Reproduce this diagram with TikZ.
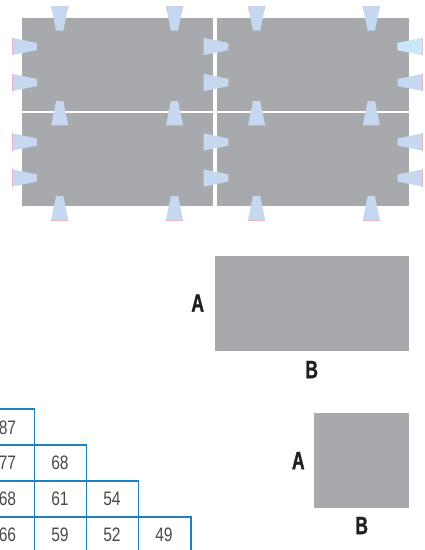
\documentclass[tikz,border=0pt]{standalone}
\usepackage{fontspec}
\newfontfamily\condreg[FakeStretch=0.80]{Liberation Sans}
\newfontfamily\condbold[FakeStretch=0.70,FakeBold=1.2]{Liberation Sans}[BoldFont={* Bold}]
\definecolor{panelgray}{HTML}{A7A9AC}
\definecolor{tabblue}{HTML}{C5D8EF}
\definecolor{tablight}{HTML}{C8E8F8}
\definecolor{tabpink}{HTML}{E8B4C4}
\definecolor{gridblue}{HTML}{1F7FC1}
\definecolor{numgray}{HTML}{4A4A4C}
\definecolor{labelblack}{HTML}{231F20}
\tikzset{
  panel/.style={fill=panelgray,draw=none},
  tabshape/.style={fill=tabblue,draw=none},
  pinkedge/.style={draw=tabpink,line width=0.5pt},
  gridline/.style={draw=gridblue,line width=1.2pt,line cap=butt},
  num/.style={font=\condreg\fontsize{19.5}{19.5}\selectfont,text=numgray,inner sep=0pt},
  dimlabel/.style={font=\condbold\fontsize{25}{25}\selectfont,text=labelblack,inner sep=0pt}
}
% vertical tab: #1 centre x, #2 wide-edge y, #3 narrow-edge y
\newcommand\vtab[3]{\fill[tabshape] (#1-8.6,#2) -- (#1+8.6,#2) -- (#1+3.6,#3) -- (#1-3.6,#3) -- cycle;}
% horizontal tab: #1 centre y, #2 wide-edge x, #3 narrow-edge x
\newcommand\htab[3]{\fill[tabshape] (#2,#1-8.6) -- (#2,#1+8.6) -- (#3,#1+3.6) -- (#3,#1-3.6) -- cycle;}
\begin{document}
\begin{tikzpicture}[x=1pt,y=-1pt]
\useasboundingbox (0,0) rectangle (425,550);
% panels
\fill[panel] (22,18) rectangle (213.4,110.8);
\fill[panel] (216.7,18) rectangle (408.8,110.8);
\fill[panel] (22,113.4) rectangle (213.4,206);
\fill[panel] (216.7,113.4) rectangle (408.8,206);
% vertical tabs
\foreach \cx in {59.7,174.5,256.6,371.3}{
  \vtab{\cx}{6}{30.7}
  \draw[pinkedge] (\cx-8.6,6) -- (\cx-7.4,11);
  \draw[pinkedge] (\cx+8.6,6) -- (\cx+7.4,11);
  \vtab{\cx}{125.4}{101}
  \vtab{\cx}{220}{196}
  \draw[pinkedge] (\cx-8.6,220) -- (\cx+8.6,220);
}
% horizontal tabs
\foreach \cy in {46.5,82.5,142,178}{
  \htab{\cy}{12.4}{36.8}
  \draw[pinkedge] (12.4,\cy-8.6) -- (12.4,\cy+8.6);
  \htab{\cy}{203.7}{228.4}
  \htab{\cy}{422.7}{397.7}
  \draw[pinkedge] (422.7,\cy-8.6) -- (422.7,\cy+8.6);
}
\fill[fill=tablight] (422.4,37.9) -- (422.4,55.1) -- (397.7,50.1) -- (397.7,42.9) -- cycle;
% separate rectangles
\fill[panel] (215,256) rectangle (409,350.8);
\fill[panel] (314,413) rectangle (409,507.8);
\node[dimlabel] (a1) at (197.7,303) {\bfseries A};
\node[dimlabel] (b1) at (311.7,369.5) {\bfseries B};
\node[dimlabel] (a2) at (298.3,460.5) {\bfseries A};
\node[dimlabel] (b2) at (361.7,525.5) {\bfseries B};
% table
\draw[gridline] (0,409) -- (34.4,409) -- (34.4,550);
\draw[gridline] (0,445) -- (86.7,445) -- (86.7,550);
\draw[gridline] (0,481) -- (138.7,481) -- (138.7,550);
\draw[gridline] (0,517) -- (191,517) -- (191,550);
\node[num] (n87) at (7.5,427.5) {87};
\node[num] (n77) at (7.5,463) {77};
\node[num] (n68a) at (7.5,499) {68};
\node[num] (n66) at (7.5,535) {66};
\node[num] (n68b) at (60,463) {68};
\node[num] (n61) at (60,499) {61};
\node[num] (n59) at (60,535) {59};
\node[num] (n54) at (112,499) {54};
\node[num] (n52) at (112,535) {52};
\node[num] (n49) at (164,535) {49};
\end{tikzpicture}
\end{document}
